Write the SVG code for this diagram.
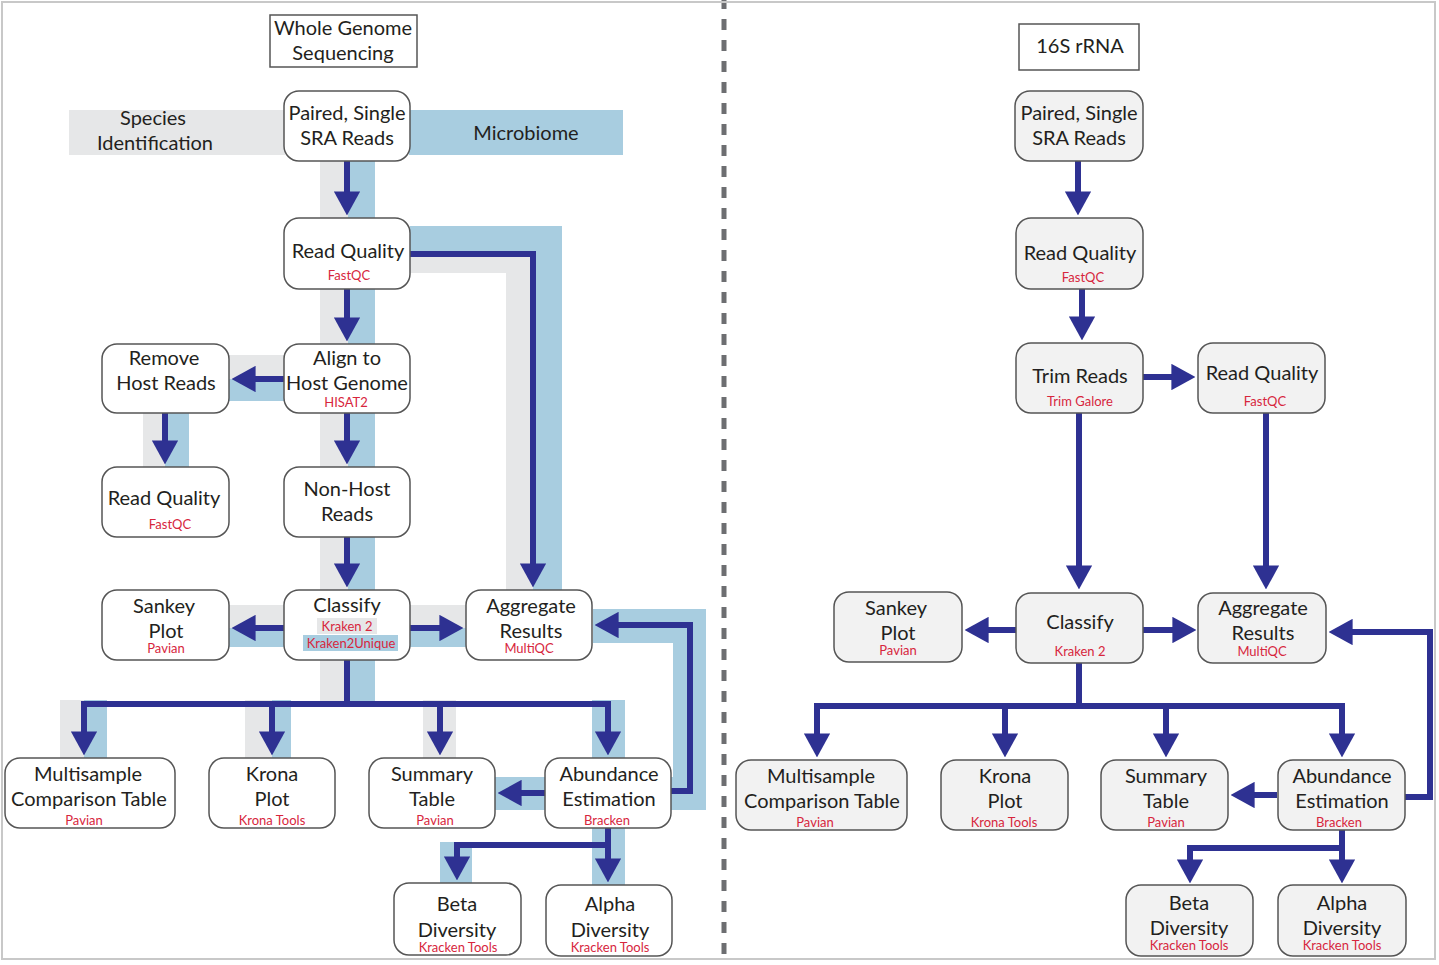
<svg xmlns="http://www.w3.org/2000/svg" width="1439" height="965" viewBox="0 0 1439 965">
<defs>
<style>
.t{font-family:Lato,"Open Sans","Liberation Sans",sans-serif;font-size:20px;fill:#231f20;text-anchor:middle}
.r{font-family:Lato,"Open Sans","Liberation Sans",sans-serif;font-size:13px;fill:#d7263d;text-anchor:middle}
.n{fill:#ffffff;stroke:#555555;stroke-width:1.5}
.nr{fill:#f2f2f2;stroke:#555555;stroke-width:1.5}
.hd{fill:#ffffff;stroke:#555555;stroke-width:1.5}
.g{fill:#e6e7e8}
.b{fill:#a8cde0}
.c{fill:none;stroke:#2e3192;stroke-width:6;stroke-linejoin:miter;marker-end:url(#ah)}
.cl{fill:none;stroke:#2e3192;stroke-width:6}
</style>
<marker id="ah" viewBox="0 0 4 4.4" refX="0.1" refY="2.2" markerWidth="4" markerHeight="4.4" orient="auto" markerUnits="strokeWidth">
<path d="M0,0 L4,2.2 L0,4.4 z" fill="#2e3192"/>
</marker>
</defs>
<rect x="0" y="0" width="1439" height="965" fill="#ffffff"/>
<line x1="724" y1="-2" x2="724" y2="958" stroke="#6d6e71" stroke-width="5" stroke-dasharray="11 10"/>
<rect x="2" y="2" width="1433" height="957" fill="none" stroke="#c8c8c8" stroke-width="2"/>

<g id="bands">
<rect class="g" x="69" y="110" width="216" height="45"/>
<rect class="b" x="409" y="110" width="214" height="45"/>
<rect class="g" x="320" y="161" width="28" height="57"/>
<rect class="b" x="348" y="161" width="27" height="57"/>
<path class="b" d="M410,226 H562 V590 H533 V254 H410 Z"/>
<path class="g" d="M410,254 H533 V590 H506 V273 H410 Z"/>
<rect class="g" x="320" y="289" width="28" height="55"/>
<rect class="b" x="348" y="289" width="27" height="55"/>
<rect class="g" x="229" y="355" width="55" height="24"/>
<rect class="b" x="229" y="379" width="55" height="22"/>
<rect class="g" x="143" y="413" width="22" height="54"/>
<rect class="b" x="165" y="413" width="24" height="54"/>
<rect class="g" x="320" y="413" width="28" height="54"/>
<rect class="b" x="348" y="413" width="27" height="54"/>
<rect class="g" x="320" y="537" width="28" height="53"/>
<rect class="b" x="348" y="537" width="27" height="53"/>
<rect class="g" x="229" y="605" width="55" height="23"/>
<rect class="b" x="229" y="628" width="55" height="19"/>
<rect class="g" x="410" y="605" width="56" height="23"/>
<rect class="b" x="410" y="628" width="56" height="19"/>
<rect class="g" x="320" y="660" width="28" height="44"/>
<rect class="b" x="348" y="660" width="27" height="44"/>
<rect class="g" x="60" y="700" width="24" height="58"/>
<rect class="b" x="84" y="700" width="23" height="58"/>
<rect class="g" x="245" y="700" width="27" height="58"/>
<rect class="b" x="272" y="700" width="19" height="58"/>
<rect class="g" x="423" y="700" width="33" height="58"/>
<rect class="b" x="592" y="700" width="33" height="58"/>
<rect class="b" x="495" y="777" width="50" height="33"/>
<path class="b" d="M593,609 H706 V810 H671 V777 H673 V643 H593 Z"/>
<rect class="b" x="592" y="828" width="33" height="57"/>
<rect class="b" x="440" y="842" width="32" height="41"/>
</g>

<g id="connectors">
<path class="c" d="M347,161 V192"/>
<path class="c" d="M347,289 V318"/>
<path class="c" d="M410,254 H533 V564"/>
<path class="c" d="M284,379 H255"/>
<path class="c" d="M165,413 V441"/>
<path class="c" d="M347,413 V441"/>
<path class="c" d="M347,537 V564"/>
<path class="c" d="M284,628 H255"/>
<path class="c" d="M410,628 H440"/>
<path class="cl" d="M347,660 V704"/>
<path class="cl" d="M81,704 H611"/>
<path class="c" d="M84,704 V732"/>
<path class="c" d="M272,704 V732"/>
<path class="c" d="M440,704 V732"/>
<path class="c" d="M608,704 V732"/>
<path class="c" d="M545,793 H521"/>
<path class="c" d="M671,791 H690 V625 H618"/>
<path class="c" d="M608,828 V859"/>
<path class="c" d="M608,845 H457 V857"/>

<path class="c" d="M1078,161 V192"/>
<path class="c" d="M1082,289 V317"/>
<path class="c" d="M1143,377 H1172"/>
<path class="c" d="M1079,413 V566"/>
<path class="c" d="M1266,413 V566"/>
<path class="c" d="M1016,630 H988"/>
<path class="c" d="M1143,630 H1173"/>
<path class="cl" d="M1079,663 V706"/>
<path class="cl" d="M814,706 H1345"/>
<path class="c" d="M817,706 V734"/>
<path class="c" d="M1005,706 V734"/>
<path class="c" d="M1166,706 V734"/>
<path class="c" d="M1342,706 V734"/>
<path class="c" d="M1277,795 H1254"/>
<path class="c" d="M1405,797 H1430 V632 H1352"/>
<path class="c" d="M1342,830 V860"/>
<path class="c" d="M1342,848 H1190 V860"/>
</g>

<g id="wgs-title"><rect class="hd" x="270" y="15" width="147" height="52"/><text class="t" x="343" y="35">Whole Genome</text><text class="t" x="343" y="60">Sequencing</text></g>
<g id="species-label"><text class="t" x="153" y="125">Species</text><text class="t" x="155" y="150">Identification</text></g>
<g id="microbiome-label"><text class="t" x="526" y="140">Microbiome</text></g>

<g id="l-paired"><rect class="n" x="284" y="91" width="126" height="70" rx="15"/><text class="t" x="347" y="120">Paired, Single</text><text class="t" x="347" y="145">SRA Reads</text></g>
<g id="l-readquality"><rect class="n" x="284" y="218" width="126" height="71" rx="15"/><text class="t" x="348" y="258">Read Quality</text><text class="r" x="349" y="280">FastQC</text></g>
<g id="l-align"><rect class="n" x="284" y="344" width="126" height="69" rx="15"/><text class="t" x="347" y="365">Align to</text><text class="t" x="347" y="390">Host Genome</text><text class="r" x="346" y="407">HISAT2</text></g>
<g id="l-remove"><rect class="n" x="102" y="344" width="127" height="69" rx="15"/><text class="t" x="164" y="365">Remove</text><text class="t" x="166" y="390">Host Reads</text></g>
<g id="l-readquality2"><rect class="n" x="102" y="467" width="127" height="70" rx="15"/><text class="t" x="164" y="505">Read Quality</text><text class="r" x="170" y="529">FastQC</text></g>
<g id="l-nonhost"><rect class="n" x="284" y="467" width="126" height="70" rx="15"/><text class="t" x="347" y="496">Non-Host</text><text class="t" x="347" y="521">Reads</text></g>
<g id="l-sankey"><rect class="n" x="102" y="590" width="127" height="70" rx="15"/><text class="t" x="164" y="613">Sankey</text><text class="t" x="166" y="638">Plot</text><text class="r" x="166" y="653">Pavian</text></g>
<g id="l-classify"><rect class="n" x="284" y="590" width="126" height="70" rx="15"/><text class="t" x="347" y="612">Classify</text><rect class="g" x="317" y="618" width="60" height="16"/><text class="r" x="347" y="631">Kraken 2</text><rect class="b" x="303" y="635" width="95" height="16"/><text class="r" x="351" y="648">Kraken2Unique</text></g>
<g id="l-aggregate"><rect class="n" x="466" y="590" width="126" height="70" rx="15"/><text class="t" x="531" y="613">Aggregate</text><text class="t" x="531" y="638">Results</text><text class="r" x="529" y="653">MultiQC</text></g>
<g id="l-multisample"><rect class="n" x="5" y="758" width="170" height="70" rx="15"/><text class="t" x="88" y="781">Multisample</text><text class="t" x="89" y="806">Comparison Table</text><text class="r" x="84" y="825">Pavian</text></g>
<g id="l-krona"><rect class="n" x="209" y="758" width="126" height="70" rx="15"/><text class="t" x="272" y="781">Krona</text><text class="t" x="272" y="806">Plot</text><text class="r" x="272" y="825">Krona Tools</text></g>
<g id="l-summary"><rect class="n" x="369" y="758" width="126" height="70" rx="15"/><text class="t" x="432" y="781">Summary</text><text class="t" x="432" y="806">Table</text><text class="r" x="435" y="825">Pavian</text></g>
<g id="l-abundance"><rect class="n" x="545" y="758" width="126" height="70" rx="15"/><text class="t" x="609" y="781">Abundance</text><text class="t" x="609" y="806">Estimation</text><text class="r" x="607" y="825">Bracken</text></g>
<g id="l-beta"><rect class="n" x="394" y="883" width="127" height="72" rx="15"/><text class="t" x="457" y="911">Beta</text><text class="t" x="457" y="937">Diversity</text><text class="r" x="458" y="952">Kracken Tools</text></g>
<g id="l-alpha"><rect class="n" x="546" y="885" width="126" height="71" rx="15"/><text class="t" x="610" y="911">Alpha</text><text class="t" x="610" y="937">Diversity</text><text class="r" x="610" y="952">Kracken Tools</text></g>

<g id="rrna-title"><rect class="hd" x="1019" y="24" width="120" height="46"/><text class="t" x="1080" y="53">16S rRNA</text></g>
<g id="r-paired"><rect class="nr" x="1015" y="91" width="128" height="70" rx="15"/><text class="t" x="1079" y="120">Paired, Single</text><text class="t" x="1079" y="145">SRA Reads</text></g>
<g id="r-readquality"><rect class="nr" x="1016" y="218" width="127" height="71" rx="15"/><text class="t" x="1080" y="260">Read Quality</text><text class="r" x="1083" y="282">FastQC</text></g>
<g id="r-trim"><rect class="nr" x="1016" y="343" width="127" height="70" rx="15"/><text class="t" x="1080" y="383">Trim Reads</text><text class="r" x="1080" y="406">Trim Galore</text></g>
<g id="r-readquality2"><rect class="nr" x="1198" y="343" width="127" height="70" rx="15"/><text class="t" x="1262" y="380">Read Quality</text><text class="r" x="1265" y="406">FastQC</text></g>
<g id="r-sankey"><rect class="nr" x="834" y="592" width="128" height="70" rx="15"/><text class="t" x="896" y="615">Sankey</text><text class="t" x="898" y="640">Plot</text><text class="r" x="898" y="655">Pavian</text></g>
<g id="r-classify"><rect class="nr" x="1016" y="593" width="127" height="70" rx="15"/><text class="t" x="1080" y="629">Classify</text><text class="r" x="1080" y="656">Kraken 2</text></g>
<g id="r-aggregate"><rect class="nr" x="1198" y="593" width="128" height="70" rx="15"/><text class="t" x="1263" y="615">Aggregate</text><text class="t" x="1263" y="640">Results</text><text class="r" x="1262" y="656">MultiQC</text></g>
<g id="r-multisample"><rect class="nr" x="736" y="760" width="171" height="70" rx="15"/><text class="t" x="821" y="783">Multisample</text><text class="t" x="822" y="808">Comparison Table</text><text class="r" x="815" y="827">Pavian</text></g>
<g id="r-krona"><rect class="nr" x="941" y="760" width="127" height="70" rx="15"/><text class="t" x="1005" y="783">Krona</text><text class="t" x="1005" y="808">Plot</text><text class="r" x="1004" y="827">Krona Tools</text></g>
<g id="r-summary"><rect class="nr" x="1101" y="760" width="127" height="70" rx="15"/><text class="t" x="1166" y="783">Summary</text><text class="t" x="1166" y="808">Table</text><text class="r" x="1166" y="827">Pavian</text></g>
<g id="r-abundance"><rect class="nr" x="1278" y="760" width="127" height="70" rx="15"/><text class="t" x="1342" y="783">Abundance</text><text class="t" x="1342" y="808">Estimation</text><text class="r" x="1339" y="827">Bracken</text></g>
<g id="r-beta"><rect class="nr" x="1126" y="885" width="127" height="71" rx="15"/><text class="t" x="1189" y="910">Beta</text><text class="t" x="1189" y="935">Diversity</text><text class="r" x="1189" y="950">Kracken Tools</text></g>
<g id="r-alpha"><rect class="nr" x="1278" y="885" width="128" height="71" rx="15"/><text class="t" x="1342" y="910">Alpha</text><text class="t" x="1342" y="935">Diversity</text><text class="r" x="1342" y="950">Kracken Tools</text></g>
</svg>
